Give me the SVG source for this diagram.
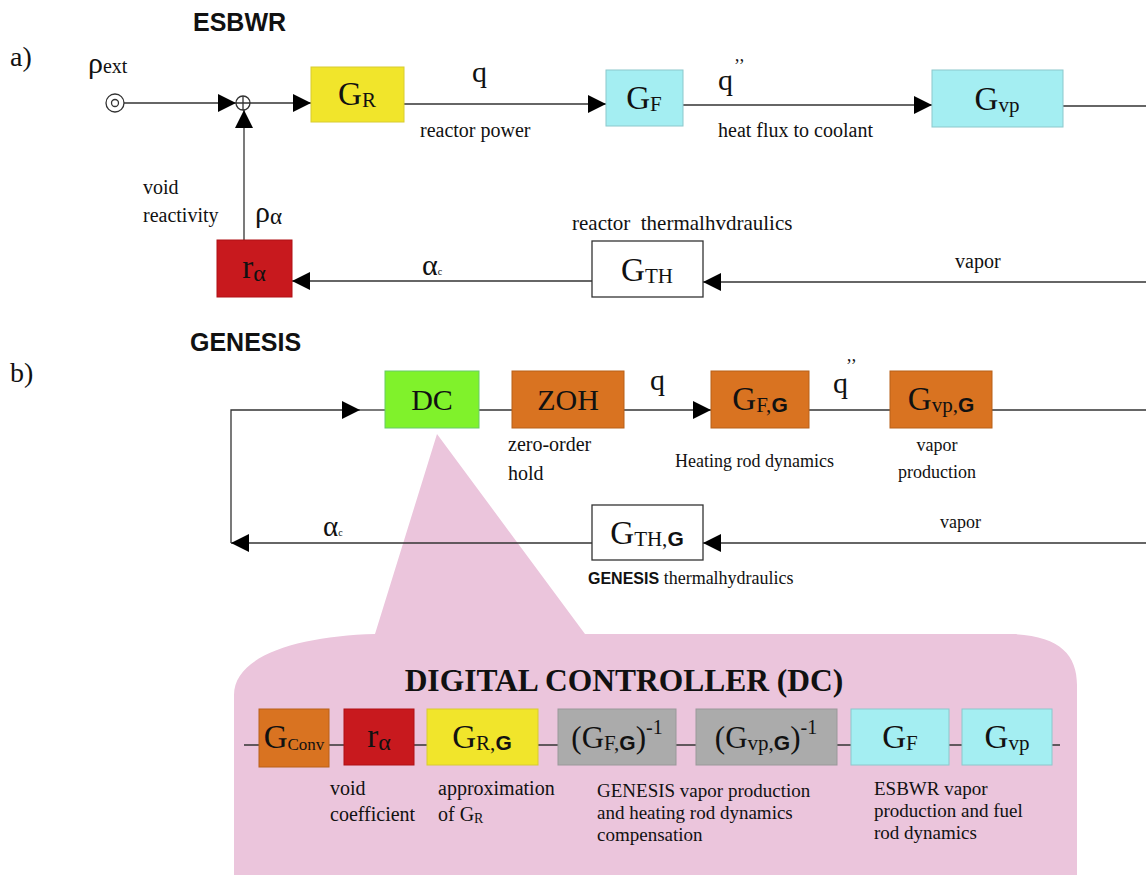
<svg xmlns="http://www.w3.org/2000/svg" width="1146" height="875" viewBox="0 0 1146 875">
<defs>
<marker id="ah" markerUnits="userSpaceOnUse" markerWidth="20" markerHeight="20" refX="18" refY="9" orient="auto"><path d="M0,0 L18,9 L0,18 Z" fill="#000"/></marker>
<style>
.t{font-family:"Liberation Serif","Times New Roman",serif;fill:#111}
.s{font-family:"Liberation Sans",Arial,sans-serif;font-weight:bold;fill:#111}
.ln{stroke:#333;stroke-width:1.3;fill:none}
.lbl{font-size:20px}
.bx{font-size:33px}
.sub{font-size:21px}
.gb{font-family:"Liberation Sans",Arial,sans-serif;font-weight:bold;font-size:21px}
.yel{fill:#f1e52b;stroke:#d8cc30;stroke-width:1}
.cy{fill:#a4eef2;stroke:#8cc8cc;stroke-width:1}
.red{fill:#c8191e;stroke:#b01015;stroke-width:1}
.or{fill:#d97321;stroke:#b86018;stroke-width:1}
.gr{fill:#ababab;stroke:#999;stroke-width:1}
.wh{fill:#fff;stroke:#333;stroke-width:1.3}
</style>
</defs>
<rect width="1146" height="875" fill="#fff"/>

<!-- callout shape -->
<g id="callout">
<path d="M375,634 L437,434 L585,634 L1013,634 C1060,636 1077,655 1077,685 L1077,880 L234,880 L234,695 C234,655 300,636 375,634 Z" fill="#ebc5dc"/>
<text x="624" y="691" class="t" font-size="31.5" font-weight="bold" text-anchor="middle">DIGITAL CONTROLLER (DC)</text>
</g>

<!-- headings -->
<text x="193" y="31" class="s" font-size="25">ESBWR</text>
<text x="10" y="66" class="t" font-size="28">a)</text>
<text x="190" y="351" class="s" font-size="25">GENESIS</text>
<text x="10" y="382" class="t" font-size="28">b)</text>

<!-- connectors -->
<g id="connectors">
<circle cx="115" cy="103" r="9" class="ln"/>
<circle cx="115" cy="103" r="3.5" class="ln"/>
<path d="M124,103 L236,103" class="ln" marker-end="url(#ah)"/>
<circle cx="243" cy="103" r="7" class="ln"/>
<path d="M236,103 H250 M243,96 V110" class="ln"/>
<path d="M250,103 L311,103" class="ln" marker-end="url(#ah)"/>
<path d="M244,240 L244,110" class="ln" marker-end="url(#ah)"/>
<path d="M404,104 L606,104" class="ln" marker-end="url(#ah)"/>
<path d="M683,105 L932,105" class="ln" marker-end="url(#ah)"/>
<path d="M1063,106 L1146,106" class="ln"/>
<path d="M1146,282 L703,282" class="ln" marker-end="url(#ah)"/>
<path d="M592,281 L292,281" class="ln" marker-end="url(#ah)"/>

<path d="M479,410 L512,410" class="ln"/>
<path d="M624,410 L711,410" class="ln" marker-end="url(#ah)"/>
<path d="M809,410 L890,410" class="ln"/>
<path d="M992,410 L1146,410" class="ln"/>
<path d="M1146,543 L703,543" class="ln" marker-end="url(#ah)"/>
<path d="M592,543 L231,543" class="ln" marker-end="url(#ah)"/>
<path d="M231,543 L231,410 L360,410" class="ln" marker-end="url(#ah)"/>
<path d="M360,410 L385,410" class="ln"/>

<path d="M244,745 L1060,745" class="ln"/>
</g>

<!-- top labels -->
<text x="88" y="73" class="t" font-size="30">ρ<tspan font-size="20">ext</tspan></text>
<text x="472" y="82" class="t" font-size="30">q</text>
<text x="420" y="137" class="t lbl">reactor power</text>
<text x="718" y="90" class="t" font-size="30">q</text>
<text x="734" y="72" class="t" font-size="18">’’</text>
<text x="718" y="137" class="t lbl">heat flux to coolant</text>
<text x="143" y="194" class="t lbl">void</text>
<text x="143" y="222" class="t lbl">reactivity</text>
<text x="255" y="222" class="t" font-size="30">ρ<tspan font-size="23" dy="2">α</tspan></text>
<text x="422" y="275" class="t" font-size="30">α<tspan font-size="10">c</tspan></text>
<text x="572" y="230" class="t" font-size="21" xml:space="preserve">reactor  thermalhvdraulics</text>
<text x="955" y="268" class="t lbl">vapor</text>

<!-- top nodes -->
<g id="GR"><rect x="311" y="67" width="93" height="55" class="yel"/><text x="357" y="105" class="t bx" text-anchor="middle">G<tspan class="sub" dy="2">R</tspan></text></g>
<g id="GF"><rect x="606" y="70" width="77" height="56" class="cy"/><text x="644" y="109" class="t bx" text-anchor="middle">G<tspan class="sub" dy="2">F</tspan></text></g>
<g id="Gvp"><rect x="932" y="70" width="131" height="57" class="cy"/><text x="997" y="110" class="t bx" text-anchor="middle">G<tspan class="sub" dy="2">vp</tspan></text></g>
<g id="ralpha"><rect x="217" y="240" width="75" height="57" class="red"/><text x="254" y="278" class="t bx" text-anchor="middle">r<tspan font-size="24" dy="3">α</tspan></text></g>
<g id="GTH"><rect x="592" y="241" width="111" height="56" class="wh"/><text x="647" y="281" class="t bx" text-anchor="middle">G<tspan class="sub" dy="2">TH</tspan></text></g>

<!-- bottom labels -->
<text x="650" y="390" class="t" font-size="30">q</text>
<text x="833" y="393" class="t" font-size="30">q</text>
<text x="846" y="372" class="t" font-size="18">’’</text>
<text x="508" y="451" class="t lbl">zero-order</text>
<text x="508" y="480" class="t lbl">hold</text>
<text x="675" y="467" class="t" font-size="18">Heating rod dynamics</text>
<text x="937" y="451" class="t" font-size="18" text-anchor="middle">vapor</text>
<text x="937" y="478" class="t" font-size="18" text-anchor="middle">production</text>
<text x="323" y="536" class="t" font-size="29">α<tspan font-size="10">c</tspan></text>
<text x="940" y="528" class="t" font-size="18">vapor</text>
<text x="588" y="584" class="t" font-size="18"><tspan class="s" font-size="16">GENESIS</tspan> thermalhydraulics</text>

<!-- bottom nodes -->
<g id="DC"><rect x="385" y="371" width="94" height="57" fill="#80f22b" stroke="#6c6" stroke-width="1"/><text x="432" y="410" class="t" font-size="30" text-anchor="middle">DC</text></g>
<g id="ZOH"><rect x="512" y="371" width="112" height="57" class="or"/><text x="568" y="410" class="t" font-size="30" text-anchor="middle">ZOH</text></g>
<g id="GFG"><rect x="711" y="371" width="98" height="57" class="or"/><text x="760" y="410" class="t bx" text-anchor="middle">G<tspan class="sub" dy="2">F,</tspan><tspan class="gb">G</tspan></text></g>
<g id="GvpG"><rect x="890" y="371" width="102" height="57" class="or"/><text x="941" y="410" class="t bx" text-anchor="middle">G<tspan class="sub" dy="2">vp,</tspan><tspan class="gb">G</tspan></text></g>
<g id="GTHG"><rect x="592" y="505" width="111" height="55" class="wh"/><text x="647" y="544" class="t bx" text-anchor="middle">G<tspan class="sub" dy="2">TH,</tspan><tspan class="gb">G</tspan></text></g>

<!-- DC inner nodes -->
<g id="Gconv"><rect x="259" y="709" width="70" height="58" class="or"/><text x="294" y="748" class="t bx" text-anchor="middle">G<tspan font-size="17" dy="2">Conv</tspan></text></g>
<g id="ralpha2"><rect x="344" y="709" width="70" height="56" class="red"/><text x="379" y="747" class="t bx" text-anchor="middle">r<tspan font-size="24" dy="3">α</tspan></text></g>
<g id="GRG"><rect x="427" y="709" width="111" height="56" class="yel"/><text x="482" y="748" class="t bx" text-anchor="middle">G<tspan class="sub" dy="2">R,</tspan><tspan class="gb">G</tspan></text></g>
<g id="GFGinv"><rect x="558" y="709" width="118" height="56" class="gr"/><text x="617" y="748" class="t" font-size="31" text-anchor="middle">(G<tspan class="sub" dy="2">F,</tspan><tspan class="gb">G</tspan><tspan dy="-2">)</tspan><tspan font-size="20" dy="-14">-1</tspan></text></g>
<g id="GvpGinv"><rect x="696" y="709" width="141" height="56" class="gr"/><text x="766" y="748" class="t" font-size="31" text-anchor="middle">(G<tspan class="sub" dy="2">vp,</tspan><tspan class="gb">G</tspan><tspan dy="-2">)</tspan><tspan font-size="20" dy="-14">-1</tspan></text></g>
<g id="GF2"><rect x="851" y="709" width="98" height="56" class="cy"/><text x="900" y="748" class="t bx" text-anchor="middle">G<tspan class="sub" dy="2">F</tspan></text></g>
<g id="Gvp2"><rect x="962" y="709" width="90" height="56" class="cy"/><text x="1007" y="748" class="t bx" text-anchor="middle">G<tspan class="sub" dy="2">vp</tspan></text></g>

<!-- DC inner labels -->
<text x="330" y="795" class="t lbl">void</text>
<text x="330" y="821" class="t lbl">coefficient</text>
<text x="438" y="795" class="t lbl">approximation</text>
<text x="438" y="821" class="t lbl">of G<tspan font-size="14" dy="2">R</tspan></text>
<text x="597" y="797" class="t" font-size="19">GENESIS vapor production</text>
<text x="597" y="819" class="t" font-size="19">and heating rod dynamics</text>
<text x="597" y="841" class="t" font-size="19">compensation</text>
<text x="874" y="795" class="t" font-size="19">ESBWR vapor</text>
<text x="874" y="817" class="t" font-size="19">production and fuel</text>
<text x="874" y="839" class="t" font-size="19">rod dynamics</text>
</svg>
